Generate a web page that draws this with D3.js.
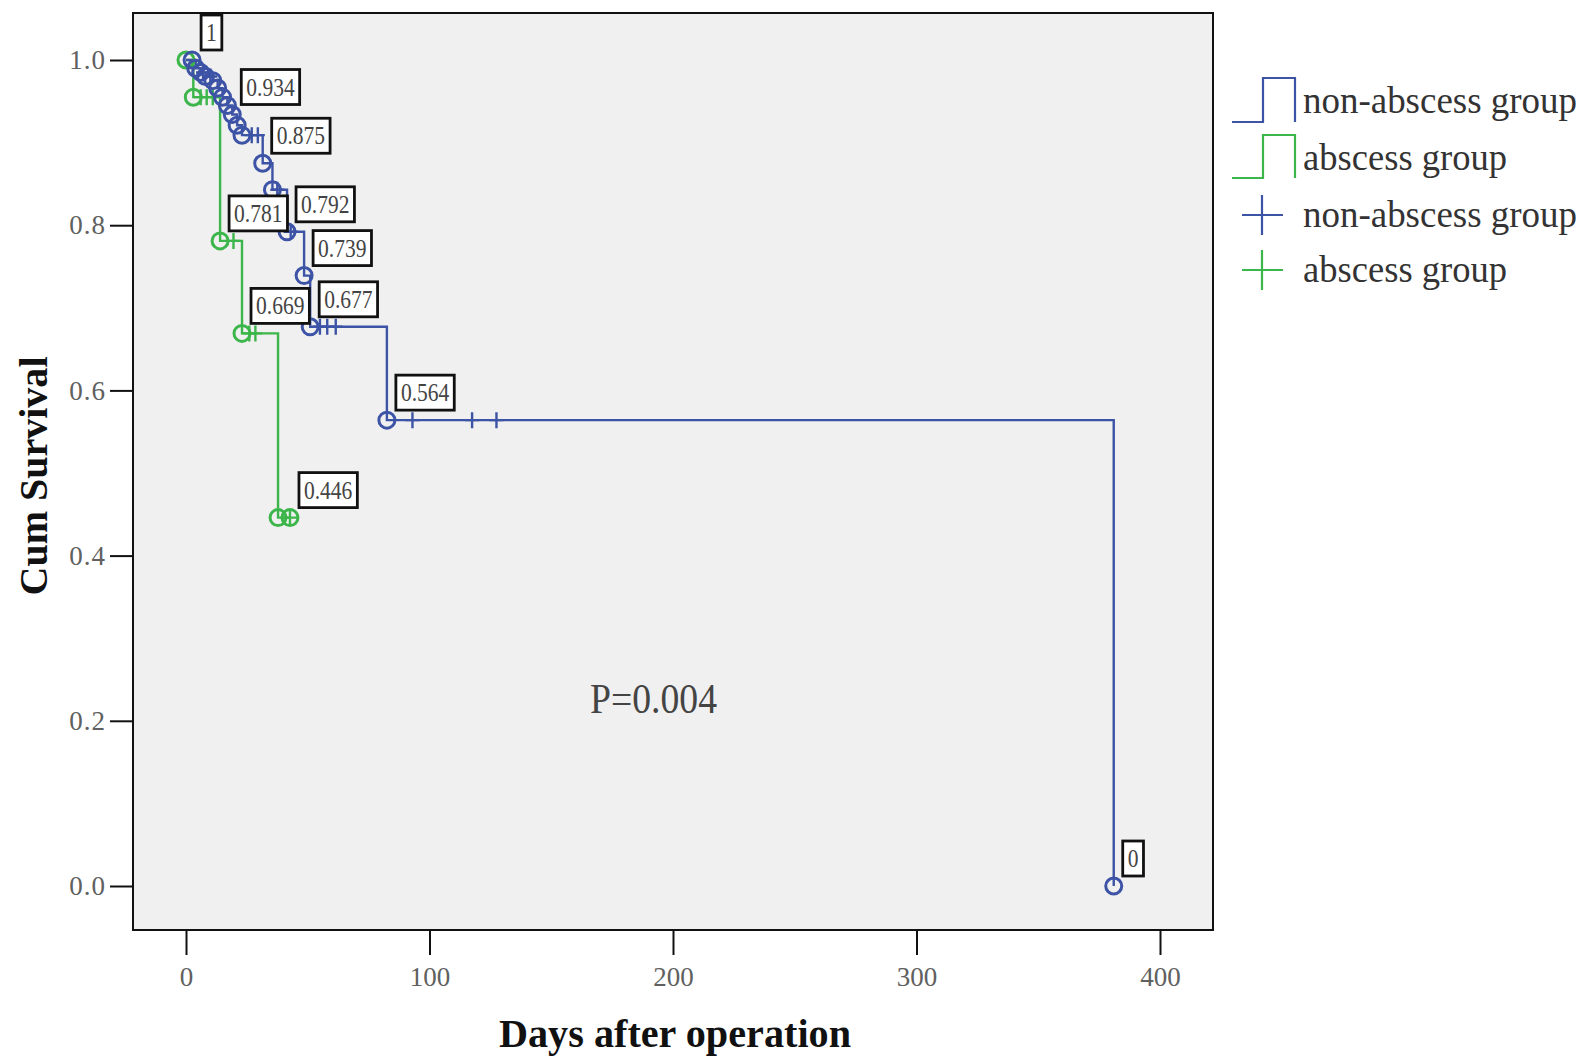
<!DOCTYPE html>
<html>
<head>
<meta charset="utf-8">
<script src="https://cdn.jsdelivr.net/npm/d3@7"></script>
<style>
  body { margin: 0; background: #fff; }
  text { font-family: 'Liberation Serif', 'DejaVu Serif', serif; }
</style>
</head>
<body>
<script>
'use strict';

// --- data ---
var xTicks = [0, 100, 200, 300, 400];
var yTicks = [0, 0.2, 0.4, 0.6, 0.8, 1.0];

// non-abscess group (blue)
var blueEventTimes = [4, 6, 8, 11, 13, 15, 17, 19, 21, 23, 31.5, 35.5, 41.5, 48.5, 51, 82.5, 381];
var blueEventSurv  = [0.990, 0.985, 0.980, 0.975, 0.966, 0.955, 0.945, 0.934, 0.921, 0.909,
                      0.875, 0.843, 0.792, 0.739, 0.677, 0.564, 0];
var blueEnd = 381;
var blueCensorTimes = [7, 10, 27, 29.5, 37.5, 43, 55, 58, 61.5, 93, 117.5, 127.5];
var blueCircleTimes = [2.5, 4, 6, 8, 11, 13, 15, 17, 19, 21, 23, 31.5, 35.5, 41.5, 48.5, 51, 82.5, 381];
var blueLabelTimes = [2.5, 19, 31.5, 41.5, 48.5, 51, 82.5, 381];

// abscess group (green)
var greenEventTimes = [3, 14, 23, 37.8];
var greenEventSurv  = [0.955, 0.781, 0.669, 0.446];
var greenEnd = 42.7;
var greenCensorTimes = [6, 8.5, 11, 19.5, 26, 28.5, 42.7];
var greenCircleTimes = [0, 3, 14, 23, 37.8, 42.7];
var greenLabelTimes = [14, 23, 42.7];

var groupNames = ['non-abscess group', 'abscess group'];
var pValueText = 'P=0.004';

var BLUE = '#3d53a6';
var GREEN = '#3cb64b';

function SurvivalAt(times, surv, t) {
  var s = 1;
  for (var i = 0; i < times.length; i++) {
    if (times[i] <= t) s = surv[i];
  }
  return s;
}

function StepPoints(times, surv, end) {
  var pts = [[0, 1]];
  times.forEach(function(t, i) { pts.push([t, surv[i]]); });
  pts.push([end, surv[surv.length - 1]]);
  return pts;
}

function FormatLabel(v) {
  if (v === 1) return '1';
  if (v === 0) return '0';
  return d3.format('.3f')(v);
}

function Main() {
  var svg = d3.select('body').append('svg')
      .attr('width', 1596)
      .attr('height', 1059);

  var frame = {left: 133, top: 13, right: 1213, bottom: 930};

  var x = d3.scaleLinear().domain([0, 400]).range([186, 1160]);
  var y = d3.scaleLinear().domain([0, 1]).range([886, 60]);

  svg.append('rect')
      .attr('x', frame.left).attr('y', frame.top)
      .attr('width', frame.right - frame.left)
      .attr('height', frame.bottom - frame.top)
      .attr('fill', '#f0f0f0')
      .attr('stroke', '#111')
      .attr('stroke-width', 2);

  // axes
  var xAxis = svg.append('g')
      .attr('transform', 'translate(0,' + frame.bottom + ')')
      .call(d3.axisBottom(x).tickValues(xTicks).tickSize(25).tickPadding(12)
        .tickFormat(d3.format('d')));
  var yAxis = svg.append('g')
      .attr('transform', 'translate(' + frame.left + ',0)')
      .call(d3.axisLeft(y).tickValues(yTicks).tickSize(23).tickPadding(4)
        .tickFormat(d3.format('.1f')));
  [xAxis, yAxis].forEach(function(ax) {
    ax.select('.domain').remove();
    ax.selectAll('line').attr('stroke', '#111').attr('stroke-width', 2);
    ax.selectAll('text')
      .attr('fill', '#606060')
      .style('font-family', "'Liberation Serif', serif")
      .style('font-size', '27px');
  });
  yAxis.selectAll('text').style('letter-spacing', '1px');

  // axis titles
  svg.append('text')
      .attr('x', 499).attr('y', 1047)
      .attr('textLength', 352).attr('lengthAdjust', 'spacingAndGlyphs')
      .attr('font-weight', 'bold').attr('font-size', 41)
      .attr('fill', '#111')
      .text('Days after operation');
  svg.append('text')
      .attr('transform', 'translate(47,476) rotate(-90)')
      .attr('text-anchor', 'middle')
      .attr('textLength', 239).attr('lengthAdjust', 'spacingAndGlyphs')
      .attr('font-weight', 'bold').attr('font-size', 41)
      .attr('fill', '#111')
      .text('Cum Survival');

  // curves
  var line = d3.line()
      .x(function(d) { return x(d[0]); })
      .y(function(d) { return y(d[1]); })
      .curve(d3.curveStepAfter);

  var groups = [
    {color: GREEN, times: greenEventTimes, surv: greenEventSurv, end: greenEnd,
     censor: greenCensorTimes, circles: greenCircleTimes, labels: greenLabelTimes},
    {color: BLUE, times: blueEventTimes, surv: blueEventSurv, end: blueEnd,
     censor: blueCensorTimes, circles: blueCircleTimes, labels: blueLabelTimes}
  ];

  groups.forEach(function(g) {
    svg.append('path')
        .attr('d', line(StepPoints(g.times, g.surv, g.end)))
        .attr('fill', 'none')
        .attr('stroke', g.color)
        .attr('stroke-width', 2.4);
  });

  groups.forEach(function(g) {
    svg.append('g').selectAll('path')
        .data(g.censor)
      .enter().append('path')
        .attr('d', function(t) {
          var px = x(t), py = y(SurvivalAt(g.times, g.surv, t));
          return 'M' + (px - 7) + ',' + py + 'H' + (px + 7) +
                 'M' + px + ',' + (py - 8) + 'V' + (py + 8);
        })
        .attr('stroke', g.color)
        .attr('stroke-width', 2.4)
        .attr('fill', 'none');
    svg.append('g').selectAll('circle')
        .data(g.circles)
      .enter().append('circle')
        .attr('cx', function(t) { return x(t); })
        .attr('cy', function(t) { return y(SurvivalAt(g.times, g.surv, t)); })
        .attr('r', 8)
        .attr('fill', 'none')
        .attr('stroke', g.color)
        .attr('stroke-width', 3);
  });

  // value labels
  groups.forEach(function(g) {
    g.labels.forEach(function(t) {
      var v = SurvivalAt(g.times, g.surv, t);
      var px = x(t), py = y(v);
      var lab = svg.append('g')
          .attr('transform', 'translate(' + (px + 9) + ',' + (py - 10) + ')');
      var rect = lab.append('rect');
      var txt = lab.append('text')
          .attr('font-size', 25)
          .attr('fill', '#444')
          .text(FormatLabel(v));
      var w = txt.node().getComputedTextLength() * 0.86;
      txt.attr('textLength', w).attr('lengthAdjust', 'spacingAndGlyphs')
         .attr('x', 5).attr('y', -9);
      rect.attr('x', 0).attr('y', -35)
          .attr('width', w + 10).attr('height', 35)
          .attr('fill', '#fff')
          .attr('stroke', '#111')
          .attr('stroke-width', 2.8);
    });
  });

  // P value
  svg.append('text')
      .attr('x', 590).attr('y', 713)
      .attr('textLength', 127).attr('lengthAdjust', 'spacingAndGlyphs')
      .attr('font-size', 42)
      .attr('fill', '#444')
      .text(pValueText);

  // legend
  var legendColors = [BLUE, GREEN];
  var stepRows = [{bottom: 122, top: 78}, {bottom: 178, top: 135}];
  stepRows.forEach(function(r, i) {
    svg.append('path')
        .attr('d', 'M1232,' + r.bottom + 'H1263V' + r.top + 'H1295V' + r.bottom)
        .attr('fill', 'none')
        .attr('stroke', legendColors[i])
        .attr('stroke-width', 2.2);
  });
  var plusRows = [215, 270];
  plusRows.forEach(function(cy, i) {
    svg.append('path')
        .attr('d', 'M1242,' + cy + 'H1283M1262,' + (cy - 20) + 'V' + (cy + 20))
        .attr('fill', 'none')
        .attr('stroke', legendColors[i])
        .attr('stroke-width', 2.2);
  });
  var legendBaselines = [113, 170, 227, 282];
  var legendLengths = {'non-abscess group': 274, 'abscess group': 204};
  legendBaselines.forEach(function(by, i) {
    var name = groupNames[i % 2];
    svg.append('text')
        .attr('x', 1303).attr('y', by)
        .attr('font-size', 38)
        .attr('textLength', legendLengths[name])
        .attr('lengthAdjust', 'spacingAndGlyphs')
        .attr('fill', '#333')
        .text(name);
  });
}

Main();
</script>
</body>
</html>
